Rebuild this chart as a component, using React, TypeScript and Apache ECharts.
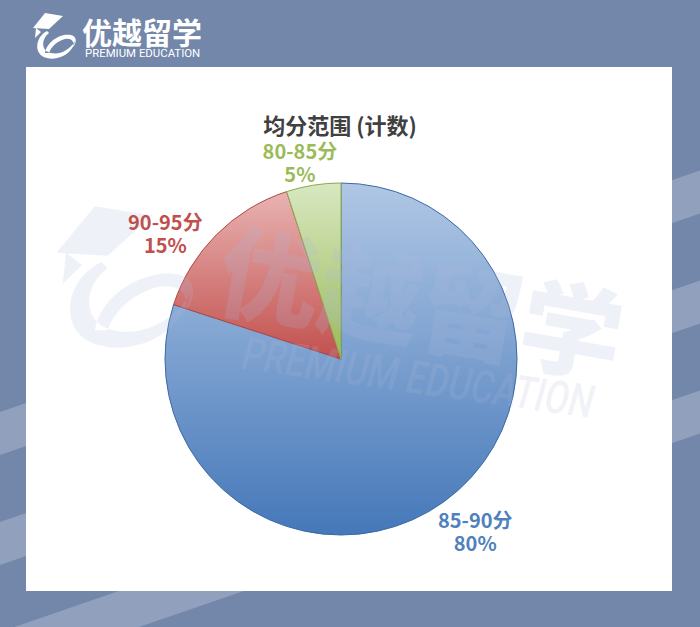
import React, { useEffect, useRef } from 'react';
import * as echarts from 'echarts';

// ---- data ----
const categories = ['85-90分', '90-95分', '80-85分'];
const values = [80, 15, 5];
const titleText = '均分范围 (计数)';

// ---- styles ----
const sliceTop = ['#b0c7e5', '#e8b3b2', '#d8e7c1'];
const sliceBottom = ['#4578b9', '#c2504d', '#9bbb59'];
const sliceBorder = ['#3d6aa4', '#b34845', '#8aab4f'];
const labelColors = ['#4f81bd', '#c0504d', '#9bbb59'];
const labelShift = [2, 9.4, 2.8];
const labelDist = [218, 216, 201];

const CX = 341;
const CY = 359;
const R = 176;
const FONT = '"Noto Sans CJK SC", "Noto Sans", sans-serif';

const ICON_D =
  'M2 17 L14 2 L32 5 L18 18 Z ' +
  'M5 17 L4 27 L10 21 Z ' +
  'M16 20 C4 26 2 44 16 47 C28 50 42 42 44 30 C38 40 28 44 20 42 C10 40 10 28 18 22 Z ' +
  'M14 42 C16 30 30 22 40 24 C46 25 46 32 42 36 C44 30 40 27 34 28 C26 30 20 36 18 42 Z';

let registered = false;
function ensureShape() {
  if (registered) return;
  echarts.graphic.registerShape('logoIcon', echarts.graphic.extendPath(ICON_D, {}) as any);
  registered = true;
}

export default function App() {
  const ref = useRef<HTMLDivElement>(null);
  useEffect(() => {
    document.body.style.margin = '0';
    ensureShape();
    const chart = echarts.init(ref.current as HTMLDivElement, null, { renderer: 'svg' });
    const total = values.reduce((a, b) => a + b, 0);
    const stripeStarts = [412, 522, 632];
    const slope = 0.345;
    const stripeW = 43;
    const wm = 'rgba(175,186,218,0.2)';

    const graphics: any[] = [];
    stripeStarts.forEach((y0) => {
      graphics.push({
        type: 'polygon',
        z: 0,
        silent: true,
        shape: {
          points: [
            [0, y0],
            [700, y0 - slope * 700],
            [700, y0 - slope * 700 + stripeW],
            [0, y0 + stripeW],
          ],
        },
        style: { fill: '#91a1bd' },
      });
    });
    graphics.push({
      type: 'rect',
      z: 1,
      silent: true,
      shape: { x: 26, y: 67, width: 646, height: 524 },
      style: { fill: '#ffffff' },
    });
    // top-left logo
    graphics.push({
      type: 'logoIcon',
      z: 1,
      x: 31,
      y: 11,
      style: { fill: '#ffffff' },
    });
    graphics.push({
      type: 'text',
      z: 1,
      x: 82,
      y: 31,
      style: {
        text: '优越留学',
        fill: '#ffffff',
        font: `bold 30px ${FONT}`,
        textAlign: 'left',
        textVerticalAlign: 'middle',
      },
    });
    graphics.push({
      type: 'text',
      z: 1,
      x: 85,
      y: 47.5,
      style: {
        text: 'PREMIUM EDUCATION',
        fill: '#ffffff',
        font: `11.4px Roboto, sans-serif`,
        textAlign: 'left',
        textVerticalAlign: 'top',
      },
    });
    // title
    graphics.push({
      type: 'text',
      z: 5,
      x: 340,
      y: 124,
      style: {
        text: titleText,
        fill: '#404040',
        font: `bold 22px ${FONT}`,
        textAlign: 'center',
        textVerticalAlign: 'middle',
      },
    });
    // watermark (between pie and its labels)
    graphics.push({
      type: 'logoIcon',
      z: 10,
      silent: true,
      x: 50,
      y: 200,
      scaleX: 3.2,
      scaleY: 3.1,
      style: { fill: wm },
    });
    graphics.push({
      type: 'text',
      z: 10,
      silent: true,
      x: 422,
      y: 298,
      rotation: (-10 * Math.PI) / 180,
      style: {
        text: '优越留学',
        fill: wm,
        font: `900 102px ${FONT}`,
        textAlign: 'center',
        textVerticalAlign: 'middle',
      },
    });
    graphics.push({
      type: 'text',
      z: 10,
      silent: true,
      x: 418,
      y: 378,
      rotation: (-8 * Math.PI) / 180,
      scaleX: 0.78,
      style: {
        text: 'PREMIUM EDUCATION',
        fill: wm,
        font: `italic 500 46px Roboto, sans-serif`,
        textAlign: 'center',
        textVerticalAlign: 'middle',
      },
    });

    const base = {
      type: 'pie',
      center: [CX, CY],
      radius: R,
      startAngle: 90,
      clockwise: true,
      silent: true,
      avoidLabelOverlap: false,
      emphasis: { disabled: true },
    };

    chart.setOption({
      animation: false,
      backgroundColor: '#7287aa',
      graphic: { elements: graphics },
      series: [
        {
          ...base,
          z: 2,
          label: { show: false },
          labelLine: { show: false },
          data: categories.map((c, i) => ({
            name: c,
            value: values[i],
            itemStyle: {
              color: new echarts.graphic.LinearGradient(0, 0, 0, 1, [
                { offset: 0, color: sliceTop[i] },
                { offset: 1, color: sliceBottom[i] },
              ]),
              borderColor: sliceBorder[i],
              borderWidth: 1,
            },
          })),
        },
        {
          ...base,
          z: 20,
          label: {
            show: true,
            position: 'outside',
            formatter: '{b}\n{d}%',
            fontFamily: FONT,
            fontSize: 20,
            fontWeight: 'bold',
            lineHeight: 23,
            align: 'center',
          },
          labelLine: { show: false },
          labelLayout: (p: any) => {
            const i = p.dataIndex;
            let cum = 0;
            for (let k = 0; k < i; k++) cum += values[k];
            const mid = 90 - (360 * (cum + values[i] / 2)) / total + labelShift[i];
            const rad = (mid * Math.PI) / 180;
            return {
              x: CX + labelDist[i] * Math.cos(rad),
              y: CY - labelDist[i] * Math.sin(rad),
              align: 'center',
              verticalAlign: 'middle',
            };
          },
          data: categories.map((c, i) => ({
            name: c,
            value: values[i],
            itemStyle: { color: 'rgba(0,0,0,0)', borderWidth: 0 },
            label: { color: labelColors[i] },
          })),
        },
      ],
    });
    return () => chart.dispose();
  }, []);
  return <div ref={ref} style={{ width: 700, height: 627 }} />;
}
